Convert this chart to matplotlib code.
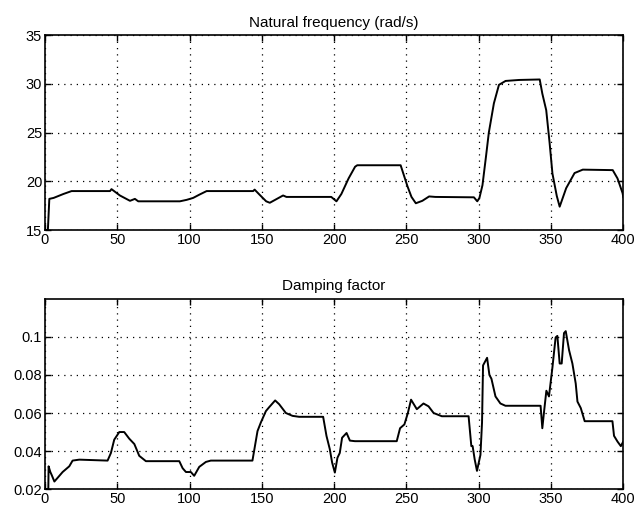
import matplotlib
matplotlib.use("Agg")
import matplotlib.pyplot as plt

plt.rcParams['font.family'] = ['Liberation Sans', 'DejaVu Sans']

# natural frequency (rad/s)
freq_t = [0, 2, 3, 6, 12.7, 18.4, 45, 46, 51.8, 58.8, 62.2, 64.5, 93.3, 98, 102.5, 107,
          111.8, 144, 145, 148.6, 153, 155.5, 164.7, 167, 198, 201.6, 205, 210, 214.5,
          216, 246, 250.7, 253.5, 256.5, 261, 265.7, 270, 296.7, 299, 300.5, 302.6, 305,
          307, 310.5, 314, 318.6, 327.9, 342.2, 344, 346.7, 349, 351, 354, 356, 360.5,
          366.3, 372, 392.7, 396, 399.5, 400]
freq_v = [15, 15, 18.2, 18.3, 18.7, 19.0, 19.0, 19.2, 18.55, 18.0, 18.2, 17.95, 17.95,
          18.1, 18.3, 18.65, 19.0, 19.0, 19.15, 18.6, 17.95, 17.8, 18.55, 18.4, 18.4,
          17.95, 18.7, 20.3, 21.5, 21.65, 21.65, 19.5, 18.4, 17.75, 18.0, 18.45, 18.4,
          18.36, 17.95, 18.3, 19.6, 22.5, 25.0, 28.0, 29.9, 30.3, 30.4, 30.45, 29.0,
          27.3, 24.0, 20.8, 18.5, 17.4, 19.3, 20.85, 21.2, 21.15, 20.3, 18.8, 18.4]

# damping factor
damp_t = [0, 2.3, 2.5, 3.7, 4.6, 6.5, 8.8, 12.2, 16.8, 19.1, 23.7, 43.3, 45.6, 47.9,
          51.4, 54.8, 58.3, 61.8, 65.2, 69.8, 92.9, 95.2, 97.5, 100.9, 103.2, 106.7,
          111.3, 114.7, 143.5, 147, 149.3, 152.8, 155, 159.2, 162, 166.6, 171.2, 175.8,
          192.4, 194.7, 197, 198.6, 200.5, 202.3, 203.9, 205.5, 208.6, 210.9, 214.4,
          243.3, 245.6, 248.6, 251, 253.2, 257.2, 261.8, 265.3, 268.8, 274.5, 293,
          294.9, 295.8, 297.2, 298.8, 301.2, 302.3, 303, 305.8, 307.4, 308.8, 311.6,
          315, 318.5, 342.8, 344, 345.1, 346.8, 348.6, 351, 353.2, 354.4, 356, 357.4,
          359, 360.2, 362.5, 364.8, 367.1, 368.3, 370.6, 373.3, 392.5, 393.6, 396,
          398.3, 400]
damp_v = [0.02, 0.02, 0.032, 0.029, 0.0275, 0.024, 0.026, 0.029, 0.032, 0.035, 0.0355,
          0.035, 0.039, 0.046, 0.050, 0.050, 0.0465, 0.0437, 0.0375, 0.0347, 0.0347,
          0.031, 0.029, 0.029, 0.027, 0.0317, 0.0343, 0.035, 0.035, 0.0505, 0.055,
          0.061, 0.063, 0.0666, 0.0646, 0.060, 0.0585, 0.058, 0.058, 0.048, 0.041,
          0.034, 0.0287, 0.0365, 0.039, 0.047, 0.0495, 0.0455, 0.0452, 0.0452, 0.052,
          0.054, 0.060, 0.067, 0.062, 0.065, 0.0635, 0.060, 0.0583, 0.0583, 0.0426,
          0.0426, 0.0357, 0.0296, 0.038, 0.055, 0.085, 0.089, 0.080, 0.078, 0.0687,
          0.065, 0.0638, 0.0638, 0.052, 0.060, 0.0717, 0.0687, 0.084, 0.0997, 0.1005,
          0.086, 0.086, 0.102, 0.103, 0.093, 0.086, 0.0755, 0.066, 0.0626, 0.0557,
          0.0557, 0.048, 0.045, 0.0426, 0.045]

x_ticks = [0, 50, 100, 150, 200, 250, 300, 350, 400]
freq_ticks = [15, 20, 25, 30, 35]
damp_ticks = [0.02, 0.04, 0.06, 0.08, 0.1]
damp_labels = ['0.02', '0.04', '0.06', '0.08', '0.1']

fig = plt.figure(figsize=(6.39, 5.09), dpi=100, facecolor='white')
ax1 = fig.add_axes([0.0704, 0.548, 0.905, 0.383])
ax2 = fig.add_axes([0.0704, 0.039, 0.905, 0.374])


def style(ax):
    ax.set_xlim(0, 400)
    ax.set_xticks(x_ticks)
    ax.grid(True, color='black', linestyle=(0, (1, 4)), linewidth=0.9)
    ax.tick_params(direction='in', length=4, width=1, labelsize=10.5, pad=2,
                   top=True, right=True, colors='black')
    for s in ax.spines.values():
        s.set_linewidth(1.2)
        s.set_color('black')


ax1.plot(freq_t, freq_v, color='black', linewidth=1.4)
ax1.set_ylim(15, 35)
ax1.set_yticks(freq_ticks)
style(ax1)
ax1.set_title('Natural frequency (rad/s)', fontsize=11, pad=6)

ax2.plot(damp_t, damp_v, color='black', linewidth=1.4)
ax2.set_ylim(0.02, 0.12)
ax2.set_yticks(damp_ticks)
ax2.set_yticklabels(damp_labels)
style(ax2)
ax2.set_title('Damping factor', fontsize=11, pad=6)

fig.savefig('out.png', dpi=100, facecolor='white')
